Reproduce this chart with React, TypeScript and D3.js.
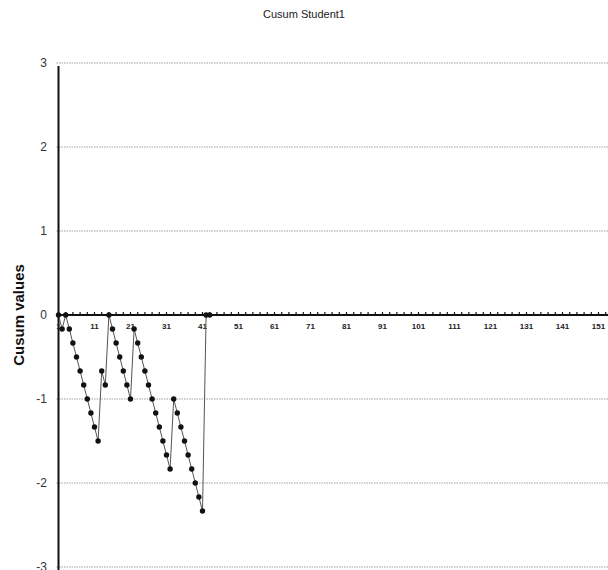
import React, { useRef, useEffect } from 'react';
import * as d3 from 'd3';

// cusum values per observation index (steps of 1/6)
const observations = d3.range(1, 44);
const cusumValues = [
  0, -1 / 6, 0, -1 / 6, -2 / 6, -3 / 6, -4 / 6, -5 / 6, -1, -7 / 6,
  -8 / 6, -9 / 6, -4 / 6, -5 / 6, 0, -1 / 6, -2 / 6, -3 / 6, -4 / 6, -5 / 6,
  -1, -1 / 6, -2 / 6, -3 / 6, -4 / 6, -5 / 6, -1, -7 / 6, -8 / 6, -9 / 6,
  -10 / 6, -11 / 6, -1, -7 / 6, -8 / 6, -9 / 6, -10 / 6, -11 / 6, -2, -13 / 6,
  -14 / 6, 0, 0,
];
const xTickLabels = d3.range(1, 152, 10);
const yTickValues = [-3, -2, -1, 0, 1, 2, 3];
const chartTitle = 'Cusum Student1';
const yAxisLabel = 'Cusum values';

const App = () => {
  const svgReference = useRef<SVGSVGElement>(null);

  useEffect(() => {
    const width = 608;
    const height = 570;
    const svg = d3.select(svgReference.current).attr('width', width).attr('height', height);
    svg.selectAll('*').remove();

    const font = 'Arial, "Liberation Sans", sans-serif';

    // index 1 sits on the y axis, 3.6px per observation
    const xScale = d3.scaleLinear().domain([1, 161]).range([58.5, 58.5 + 160 * 3.6]);
    const yScale = d3.scaleLinear().domain([-3, 3]).range([567, 63]);

    // title
    svg.append('text')
      .attr('x', 304)
      .attr('y', 18)
      .attr('text-anchor', 'middle')
      .style('font-family', font)
      .style('font-size', '11px')
      .style('fill', '#222')
      .text(chartTitle);

    // gridlines
    svg.append('g')
      .selectAll('line')
      .data(yTickValues.filter(v => v !== 0))
      .enter().append('line')
      .attr('x1', xScale(1) - 2)
      .attr('x2', width)
      .attr('y1', d => yScale(d))
      .attr('y2', d => yScale(d))
      .style('stroke', '#888')
      .style('stroke-width', 0.8)
      .style('stroke-dasharray', '1.5,1');

    // y tick labels
    svg.append('g')
      .selectAll('text')
      .data(yTickValues)
      .enter().append('text')
      .attr('x', 47)
      .attr('y', d => yScale(d) + 4)
      .attr('text-anchor', 'end')
      .style('font-family', font)
      .style('font-size', '12px')
      .style('fill', '#333')
      .text(d => d);

    // y axis label
    svg.append('text')
      .attr('transform', `translate(24,${yScale(0)}) rotate(-90)`)
      .attr('text-anchor', 'middle')
      .style('font-family', font)
      .style('font-size', '15px')
      .style('font-weight', 'bold')
      .style('fill', '#111')
      .text(yAxisLabel);

    // y axis line
    svg.append('line')
      .attr('x1', xScale(1))
      .attr('x2', xScale(1))
      .attr('y1', yScale(3) + 3)
      .attr('y2', height)
      .style('stroke', '#111')
      .style('stroke-width', 2);

    // zero axis with small ticks every 2 observations
    svg.append('line')
      .attr('x1', xScale(1))
      .attr('x2', width)
      .attr('y1', yScale(0))
      .attr('y2', yScale(0))
      .style('stroke', '#111')
      .style('stroke-width', 2);

    svg.append('g')
      .selectAll('line')
      .data(d3.range(1, 162, 2))
      .enter().append('line')
      .attr('x1', d => xScale(d))
      .attr('x2', d => xScale(d))
      .attr('y1', yScale(0) - 3)
      .attr('y2', yScale(0))
      .style('stroke', '#111')
      .style('stroke-width', 1.2);

    // x tick labels
    svg.append('g')
      .selectAll('text')
      .data(xTickLabels)
      .enter().append('text')
      .attr('x', d => xScale(d))
      .attr('y', yScale(0) + 14)
      .attr('text-anchor', 'middle')
      .style('font-family', font)
      .style('font-size', '8px')
      .style('font-weight', 'bold')
      .style('fill', '#222')
      .text(d => d);

    // series line
    const data = observations.map((o, i) => ({ o, v: cusumValues[i] }));
    const line = d3.line<{ o: number; v: number }>()
      .x(d => xScale(d.o))
      .y(d => yScale(d.v));

    svg.append('path')
      .datum(data)
      .attr('d', line)
      .style('fill', 'none')
      .style('stroke', '#555')
      .style('stroke-width', 1);

    svg.append('g')
      .selectAll('circle')
      .data(data)
      .enter().append('circle')
      .attr('cx', d => xScale(d.o))
      .attr('cy', d => yScale(d.v))
      .attr('r', 2.7)
      .style('fill', '#111');
  }, []);

  return (
    <div style={{ position: 'absolute', left: 0, top: 0 }}>
      <svg ref={svgReference} style={{ display: 'block' }}></svg>
    </div>
  );
};

export default App;
